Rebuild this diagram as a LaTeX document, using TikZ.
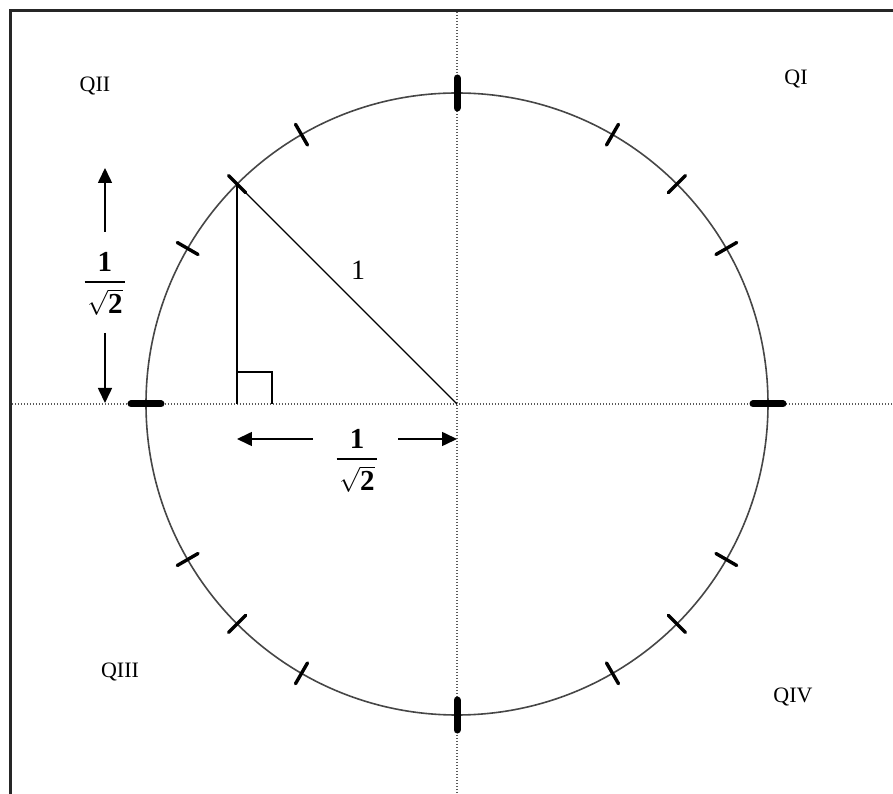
\documentclass[tikz,border=0pt]{standalone}
\usepackage{amsmath}
\usepackage{fontspec}
\setmainfont{Liberation Serif}
\usetikzlibrary{arrows.meta, calc}
\definecolor{axisgray}{RGB}{90,90,90}
\definecolor{circgray}{RGB}{70,70,70}

\begin{document}
\begin{tikzpicture}[x=1pt, y=1pt,
		frameline/.style={line width=3pt, black!85},
		axisline/.style={axisgray, line width=1.4pt, dash pattern=on 1.3pt off 1.7pt},
		unitcircle/.style={circgray, line width=1.6pt},
		majortick/.style={line width=7pt, line cap=round},
		minortick/.style={line width=3.4pt, line cap=round},
		dimarrow/.style={line width=1.6pt, -{Triangle[length=15pt, width=14pt]}},
		quadlabel/.style={font=\fontsize{22}{26}\selectfont},
		fraclabel/.style={font=\fontsize{29}{34}\selectfont, inner sep=0pt}]
	\useasboundingbox (-457,-390) rectangle (436,404);
	\draw[frameline] (-446,-390) -- (-446,393) -- (436,393);
	\draw[axisline] (-445,0) -- (436,0);
	\draw[axisline] (0,392) -- (0,-390);
	\draw[unitcircle] (0,0) circle (311);
	\foreach \a in {30,45,60,120,135,150,210,225,240,300,315,330}
		\draw[minortick] (\a:299) -- (\a:323);
	\foreach \a in {0,90,180,270}
		\draw[majortick] (\a:296) -- (\a:326);
	\coordinate (O) at (0,0);
	\coordinate (P) at (135:311);
	\coordinate (F) at (P |- O);
	\draw[line width=1.4pt] (P) -- (F);
	\draw[line width=1.4pt] (P) -- (O);
	\draw[line width=1.6pt] ($(F)+(0,32)$) -| ($(F)+(35,0)$);
	\node[font=\fontsize{28}{32}\selectfont] (hyp) at (-99,134) {1};
	\node[fraclabel] (fracv) at (-352,120) {$\genfrac{}{}{2pt}{0}{\textbf{1}}{\mkern2mu\sqrt{\textbf{2}}\mkern2mu}$};
	\node[fraclabel] (frach) at (-100,-57) {$\genfrac{}{}{2pt}{0}{\textbf{1}}{\mkern2mu\sqrt{\textbf{2}}\mkern2mu}$};
	\coordinate (vfrom1) at (-352,172);
	\coordinate (vup) at (-352,236);
	\coordinate (vfrom2) at (-352,71);
	\coordinate (vdown) at (-352,1);
	\coordinate (hfrom1) at (-144,-35);
	\coordinate (hleft) at (-220,-35);
	\coordinate (hfrom2) at (-59,-35);
	\coordinate (hright) at (0,-35);
	\draw[dimarrow] (vfrom1) -- (vup);
	\draw[dimarrow] (vfrom2) -- (vdown);
	\draw[dimarrow] (hfrom1) -- (hleft);
	\draw[dimarrow] (hfrom2) -- (hright);
	\node[quadlabel] (q1) at (339,325) {QI};
	\node[quadlabel] (q2) at (-362,318) {QII};
	\node[quadlabel] (q3) at (-337,-268) {QIII};
	\node[quadlabel] (q4) at (336,-293) {QIV};
\end{tikzpicture}
\end{document}
